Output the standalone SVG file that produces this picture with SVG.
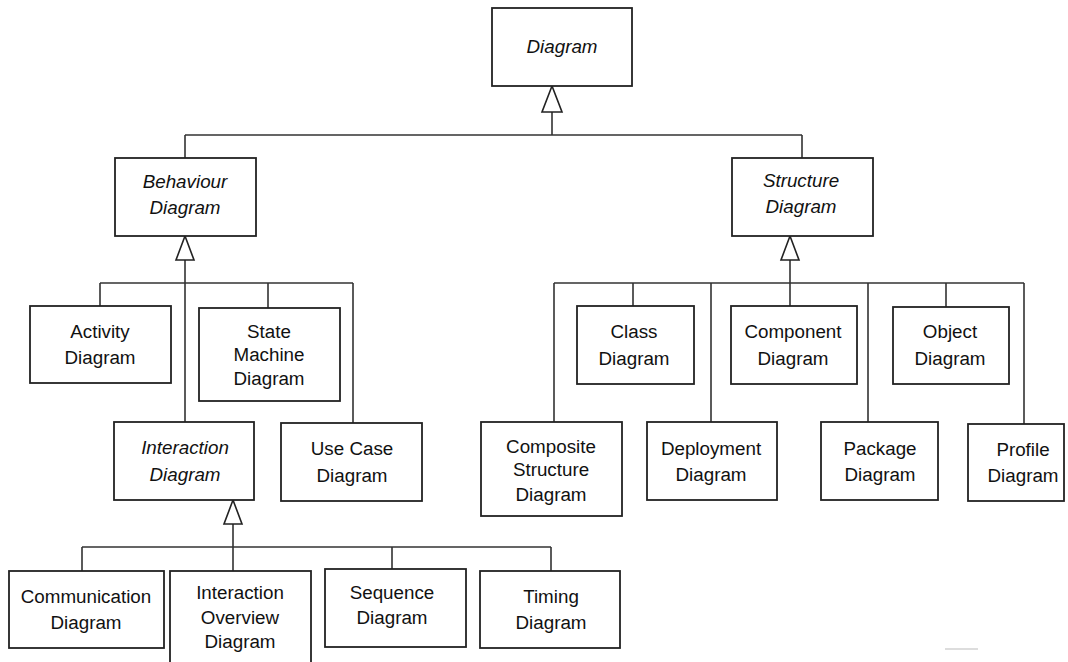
<svg xmlns="http://www.w3.org/2000/svg" width="1068" height="662" viewBox="0 0 1068 662">
<style>
.box{fill:#fff;stroke:#222;stroke-width:1.8}
.ln{fill:none;stroke:#333;stroke-width:1.6}
.tri{fill:#fff;stroke:#222;stroke-width:1.6;stroke-linejoin:miter}
text{font-family:"Liberation Sans",Arial,sans-serif;font-size:18.8px;fill:#111;text-anchor:middle}
.it{font-style:italic}
</style>
<rect width="1068" height="662" fill="#fff"/>
<g id="connectors">
<path class="ln" d="M552 112V135M185 135H802M185 135V158M802 135V158"/>
<path class="ln" d="M185 260V422M100 283H353M100 283V306M268 283V308M353 283V423"/>
<path class="ln" d="M790 260V306M554 283H1024M554 283V422M633 283V306M711 283V422M868 283V422M946 283V307M1024 283V424"/>
<path class="ln" d="M233 524V571M82 547H551M82 547V571M392 547V569M551 547V571"/>
<polygon class="tri" points="552,86 542,112 562,112"/>
<polygon class="tri" points="185,236 176,260 194,260"/>
<polygon class="tri" points="790,236 781,260 799,260"/>
<polygon class="tri" points="233,500 224,524 242,524"/>
</g>
<g id="diagram"><rect class="box" x="492" y="8" width="140" height="78"/><text class="it" x="562" y="53">Diagram</text></g>
<g id="behaviour"><rect class="box" x="115" y="158" width="141" height="78"/><text class="it" x="185" y="188">Behaviour</text><text class="it" x="185" y="214">Diagram</text></g>
<g id="structure"><rect class="box" x="732" y="158" width="141" height="78"/><text class="it" x="801" y="187">Structure</text><text class="it" x="801" y="213">Diagram</text></g>
<g id="activity"><rect class="box" x="30" y="306" width="141" height="77"/><text x="100" y="338">Activity</text><text x="100" y="364">Diagram</text></g>
<g id="statemachine"><rect class="box" x="199" y="308" width="141" height="93"/><text x="269" y="338">State</text><text x="269" y="361">Machine</text><text x="269" y="385">Diagram</text></g>
<g id="interaction"><rect class="box" x="114" y="422" width="140" height="78"/><text class="it" x="185" y="454">Interaction</text><text class="it" x="185" y="481">Diagram</text></g>
<g id="usecase"><rect class="box" x="281" y="423" width="141" height="78"/><text x="352" y="455">Use Case</text><text x="352" y="482">Diagram</text></g>
<g id="class"><rect class="box" x="577" y="306" width="117" height="78"/><text x="634" y="338">Class</text><text x="634" y="365">Diagram</text></g>
<g id="component"><rect class="box" x="731" y="306" width="126" height="78"/><text x="793" y="338">Component</text><text x="793" y="365">Diagram</text></g>
<g id="object"><rect class="box" x="893" y="307" width="116" height="77"/><text x="950" y="338">Object</text><text x="950" y="365">Diagram</text></g>
<g id="composite"><rect class="box" x="481" y="422" width="141" height="94"/><text x="551" y="453">Composite</text><text x="551" y="476">Structure</text><text x="551" y="501">Diagram</text></g>
<g id="deployment"><rect class="box" x="647" y="422" width="130" height="78"/><text x="711" y="455">Deployment</text><text x="711" y="481">Diagram</text></g>
<g id="package"><rect class="box" x="821" y="422" width="117" height="78"/><text x="880" y="455">Package</text><text x="880" y="481">Diagram</text></g>
<g id="profile"><rect class="box" x="968" y="424" width="96" height="77"/><text x="1023" y="456">Profile</text><text x="1023" y="482">Diagram</text></g>
<g id="communication"><rect class="box" x="9" y="571" width="155" height="77"/><text x="86" y="603">Communication</text><text x="86" y="629">Diagram</text></g>
<g id="interactionoverview"><rect class="box" x="170" y="571" width="141" height="100"/><text x="240" y="599">Interaction</text><text x="240" y="624">Overview</text><text x="240" y="648">Diagram</text></g>
<g id="sequence"><rect class="box" x="325" y="569" width="141" height="78"/><text x="392" y="599">Sequence</text><text x="392" y="624">Diagram</text></g>
<g id="timing"><rect class="box" x="480" y="571" width="140" height="77"/><text x="551" y="603">Timing</text><text x="551" y="629">Diagram</text></g>
<line x1="945" y1="649" x2="978" y2="649" stroke="#ddd" stroke-width="2"/>
</svg>
